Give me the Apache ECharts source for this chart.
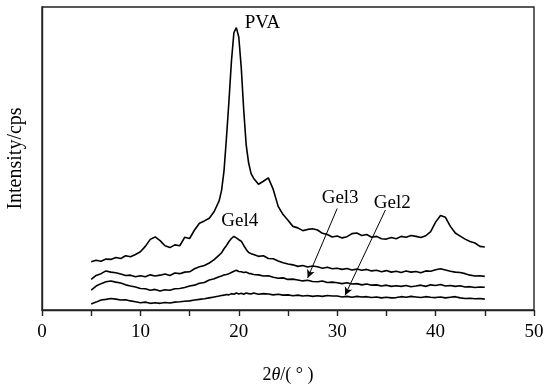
<!DOCTYPE html>
<html>
<head>
<meta charset="utf-8">
<script src="https://cdn.jsdelivr.net/npm/echarts@6/dist/echarts.min.js"></script>
<style>
  html, body { margin: 0; padding: 0; background: #fff; }
  #chart { width: 544px; height: 389px; }
</style>
</head>
<body>
<div id="chart"></div>
<script>
// 2theta grid (degrees), finer around the main PVA peak
const twoTheta = [
  5, 5.5, 6, 6.5, 7, 7.5, 8, 8.5, 9, 9.5, 10, 10.5, 11, 11.5, 12, 12.5, 13, 13.5,
  14, 14.5, 15, 15.5, 16, 16.5, 17, 17.5, 18,
  18.25, 18.5, 18.75, 19, 19.25, 19.5, 19.75, 20, 20.25, 20.5, 20.75, 21, 21.25, 21.5,
  22, 22.5, 23, 23.5, 24, 24.5, 25, 25.5, 26, 26.5, 27, 27.5, 28, 28.5, 29, 29.5,
  30, 30.5, 31, 31.5, 32, 32.5, 33, 33.5, 34, 34.5, 35, 35.5, 36, 36.5, 37, 37.5,
  38, 38.5, 39, 39.5, 40, 40.5, 41, 41.5, 42, 42.5, 43, 43.5, 44, 44.5, 45
];

// intensities (arbitrary units, curves offset as in the figure)
const pva = [
  15.9, 16.4, 16.1, 16.8, 16.7, 17.3, 17.0, 17.9, 17.6, 18.3, 19.2, 21.0, 23.3, 24.1, 22.9, 21.2, 20.6, 21.5,
  21.2, 24.0, 23.6, 26.4, 28.6, 29.4, 30.3, 32.5, 36.0,
  39.5, 46.0, 57.0, 69.0, 82.0, 91.5, 93.2, 90.0, 80.0, 66.0, 54.5, 48.5, 45.0, 43.5,
  41.5, 42.5, 43.6, 39.8, 34.2, 31.5, 29.6, 27.6, 27.1, 26.2, 26.6, 26.8, 26.4, 25.3, 24.9, 24.1,
  24.4, 23.8, 24.2, 25.2, 25.4, 24.6, 24.9, 24.0, 24.3, 23.5, 23.4, 23.9, 23.5, 24.3, 24.0, 24.6,
  24.3, 23.9, 24.5, 25.9, 29.0, 31.2, 30.6, 27.6, 25.4, 24.4, 23.4, 22.6, 22.1, 21.0, 20.8
];
const gel4 = [
  10.1, 11.4, 12.0, 12.9, 12.5, 12.3, 11.9, 11.4, 11.5, 11.0, 11.3, 11.0, 11.6, 11.2, 11.5, 11.9, 11.4, 12.2,
  12.0, 12.5, 12.6, 13.6, 14.3, 14.7, 15.5, 16.6, 18.1,
  18.9, 20.2, 21.3, 22.6, 23.6, 24.3, 23.8, 23.2, 22.7, 21.3, 20.0, 19.0, 18.6, 18.3,
  17.7, 17.9, 17.0, 16.9, 16.2, 15.6, 15.2, 14.9, 14.4, 14.7, 14.2, 14.5, 14.3, 13.8, 14.1, 13.6,
  13.8, 13.4, 13.7, 13.2, 13.5, 13.1, 13.4, 12.9, 13.1, 12.6, 13.0, 12.5, 12.8, 12.4, 12.9, 12.5,
  12.7, 12.3, 12.9, 12.8, 13.3, 13.6, 13.2, 12.8, 12.5, 12.4, 12.0, 11.5, 11.2, 11.3, 11.1
];
const gel3 = [
  6.6, 7.9, 8.7, 9.3, 9.6, 9.2, 8.9, 8.3, 7.9, 7.6, 7.1, 7.0, 6.5, 6.8, 6.3, 6.7, 6.5, 7.0,
  7.1, 7.4, 7.9, 8.2, 8.8, 9.1, 9.9, 10.3, 11.0,
  11.2, 11.6, 11.7, 12.0, 12.4, 12.8, 13.1, 12.7, 12.6, 12.4, 12.5, 12.1, 12.0, 11.7,
  11.6, 11.2, 11.3, 10.8, 10.5, 10.6, 10.1, 10.2, 9.9, 9.6, 9.8, 9.4, 9.3, 9.6, 9.1, 9.2,
  9.0, 8.7, 9.0, 8.6, 8.7, 8.3, 8.6, 8.2, 8.3, 7.9, 8.2, 7.8, 8.0, 7.8, 8.1, 7.7,
  7.9, 8.2, 7.8, 8.3, 8.1, 8.4, 7.9, 8.1, 7.8, 8.0, 7.6, 7.7, 7.4, 7.6, 7.5
];
const gel2 = [
  2.0, 2.6, 3.3, 3.5, 3.8, 3.6, 3.3, 3.4, 3.0, 2.7, 2.4, 2.6, 2.2, 2.4, 2.2, 2.5, 2.3, 2.6,
  2.7, 2.9, 3.0, 3.3, 3.5, 3.7, 4.0, 4.3, 4.6,
  4.8, 4.9, 5.1, 5.0, 5.4, 5.2, 5.6, 5.3, 5.5, 5.2, 5.6, 5.4, 5.3, 5.6,
  5.2, 5.4, 5.3, 5.0, 5.2, 4.9, 5.0, 4.7, 4.9, 4.6, 4.8, 4.5, 4.7, 4.5, 4.8, 4.6,
  4.6, 4.3, 4.5, 4.2, 4.5, 4.3, 4.4, 4.1, 4.3, 4.0, 4.2, 4.0, 4.1, 4.4, 4.2, 4.5,
  4.3, 4.1, 4.4, 4.2, 4.1, 4.3, 4.0, 4.2, 4.4, 4.0, 3.8, 3.9, 3.7, 3.8, 3.6
];

const seriesNames = ['PVA', 'Gel4', 'Gel3', 'Gel2'];
// label anchor [2theta, intensity] for each curve name
const labelPos = [[22.4, 94.8], [20.1, 29.3], [30.3, 36.8], [35.6, 35.2]];
// arrows for Gel3 / Gel2: [from, to]
const gel3Arrow = [[30.0, 33.5], [27.0, 10.6]];
const gel2Arrow = [[34.9, 33.0], [30.8, 4.9]];

const font = 'Liberation Serif';
const pair = (ys) => twoTheta.map((x, i) => [x, ys[i]]);

const chart = echarts.init(document.getElementById('chart'));

const lineSeries = (name, ys, idx, arrow) => ({
  name,
  type: 'line',
  data: pair(ys),
  symbol: 'none',
  lineStyle: { color: '#000', width: 1.6 },
  silent: true,
  markPoint: {
    symbol: 'circle',
    symbolSize: 0,
    data: [{ coord: labelPos[idx] }],
    label: {
      show: true,
      formatter: name,
      fontFamily: font,
      fontSize: 19,
      color: '#000',
      position: 'inside'
    }
  },
  markLine: arrow ? {
    silent: true,
    symbol: ['none', 'arrow'],
    symbolSize: [6, 8],
    label: { show: false },
    lineStyle: { color: '#000', width: 1, type: 'solid' },
    data: [[{ coord: arrow[0] }, { coord: arrow[1] }]]
  } : undefined
});

chart.setOption({
  animation: false,
  backgroundColor: '#fff',
  grid: {
    left: 42, right: 10, top: 7, bottom: 79,
    outerBoundsMode: 'none',
    show: true,
    borderColor: '#222',
    borderWidth: 1.4
  },
  xAxis: {
    type: 'value',
    min: 0,
    max: 50,
    interval: 5,
    name: '2{i|θ}/( ° )',
    nameLocation: 'middle',
    nameGap: 56,
    nameTextStyle: {
      fontFamily: font,
      fontSize: 18,
      color: '#000',
      rich: { i: { fontFamily: font, fontStyle: 'italic', fontSize: 18, color: '#000' } }
    },
    axisLine: { show: true, lineStyle: { color: '#222', width: 1.4 } },
    axisTick: { show: true, inside: false, length: 6, lineStyle: { color: '#222', width: 1.4 } },
    axisLabel: {
      margin: 13,
      fontFamily: font,
      fontSize: 19,
      color: '#000',
      formatter: (v) => (v % 10 === 0 ? String(v) : '')
    },
    splitLine: { show: false }
  },
  yAxis: {
    type: 'value',
    min: 0,
    max: 100,
    name: 'Intensity/cps',
    nameLocation: 'middle',
    nameGap: 16,
    nameTextStyle: { fontFamily: font, fontSize: 20, color: '#000' },
    axisLine: { show: true, lineStyle: { color: '#222', width: 1.4 } },
    axisTick: { show: false },
    axisLabel: { show: false },
    splitLine: { show: false }
  },
  series: [
    lineSeries(seriesNames[0], pva, 0),
    lineSeries(seriesNames[1], gel4, 1),
    lineSeries(seriesNames[2], gel3, 2, gel3Arrow),
    lineSeries(seriesNames[3], gel2, 3, gel2Arrow)
  ]
});
</script>
</body>
</html>
